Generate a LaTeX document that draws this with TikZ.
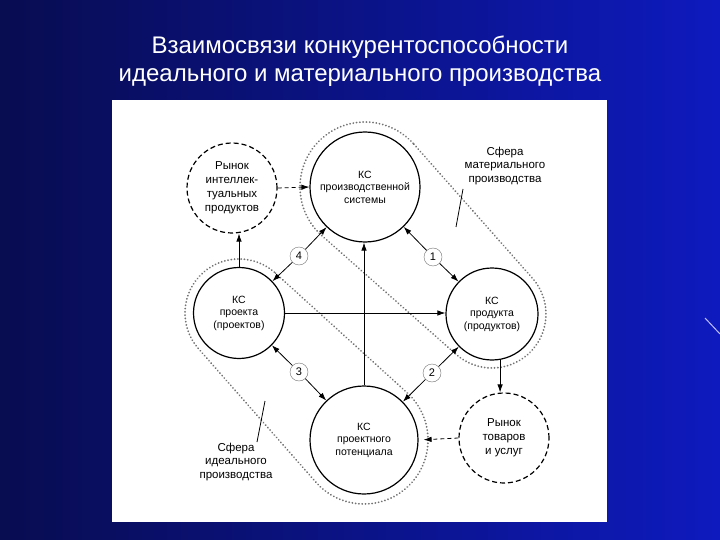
\documentclass[tikz,border=0pt]{standalone}
\usepackage{fontspec}
\setmainfont{Liberation Sans}
\usetikzlibrary{arrows.meta,calc,positioning}
\definecolor{bgnavy}{RGB}{8,12,80}
\definecolor{bgblue}{RGB}{14,26,190}

\begin{document}
\begin{tikzpicture}[x=1pt,y=-1pt,
        ks/.style={draw,circle,line width=1.2pt,minimum size=#1,inner sep=0pt,
          align=center,font=\fontsize{10.5}{12.5}\selectfont},
        market/.style={draw,circle,dash pattern=on 5pt off 3pt,line width=1.2pt,
          minimum size=90pt,inner sep=0pt,align=center,
          font=\fontsize{11.5}{14}\selectfont},
        tag/.style={draw=black!55,circle,fill=white,minimum size=18pt,
          inner sep=0pt,font=\fontsize{11}{12}\selectfont},
        sphere/.style={dash pattern=on .1pt off 3.2pt,line cap=round,
          line width=1.9pt,black!55},
        flow/.style={-{Latex[length=8pt,width=5.5pt]},line width=.8pt},
        note/.style={align=center,font=\fontsize{11.5}{13.5}\selectfont}]
        \useasboundingbox (0,0) rectangle (720,540);
        % Slide background, panel and title.
        \shade[left color=bgnavy,right color=bgblue] (0,0) rectangle (720,540);
        \draw[white!75!blue,line width=1pt] (705,318)--(720,334);
        \fill[white] (112,100) rectangle (607,522);
        \node[text=white,align=center,font=\fontsize{24}{28}\selectfont]
          (title) at (360,61) {Взаимосвязи конкурентоспособности\\
          идеального и материального производства};

        % Competitiveness circles and the two markets.
        \node[ks=110pt] (prod) at (365,187) {КС\\производственной\\системы};
        \node[ks=91pt] (proj) at (239,313) {КС\\проекта\\(проектов)};
        \node[ks=92pt] (prodt) at (492,314) {КС\\продукта\\(продуктов)};
        \node[ks=108pt] (pot) at (364,440) {КС\\проектного\\потенциала};
        \node[market] (mkti) at (232,188) {Рынок\\интеллек-\\туальных\\продуктов};
        \node[market] (mktg) at (504,438) {Рынок\\товаров\\и услуг};

        % Spheres of material and ideal production (dotted hulls).
        \draw[sphere] ($(prod)+(-41.28:65)$)--($(prodt)+(-41.28:54)$)
          arc[start angle=-41.28,end angle=131.72,radius=54]
          --($(prod)+(131.72:65)$)
          arc[start angle=131.72,end angle=318.72,radius=65]--cycle;
        \draw[sphere] ($(proj)+(-47.54:54)$)--($(pot)+(-47.54:64)$)
          arc[start angle=-47.54,end angle=138.92,radius=64]
          --($(proj)+(138.92:54)$)
          arc[start angle=138.92,end angle=312.46,radius=54]--cycle;
        \node[note] (matnote) at (505,166) {Сфера\\материального\\производства};
        \node[note] (idnote) at (236,462) {Сфера\\идеального\\производства};
        \coordinate (matA) at (463,189);
        \coordinate (matB) at (456,227);
        \draw[line width=.8pt] (matA)--(matB);
        \coordinate (idA) at (265,401);
        \coordinate (idB) at (257,442);
        \draw[line width=.8pt] (idA)--(idB);

        % Direct flows.
        \draw[flow] (proj.north)--(proj.north |- mkti.south);
        \draw[flow] (pot.north)--(pot.north |- prod.south);
        \draw[flow] (proj.east)--(proj.east -| prodt.west);
        \draw[flow] (prodt.-80)--(prodt.-80 |- mktg.north);
        \draw[flow,dash pattern=on 4pt off 3pt] (mkti.east)--(prod.west);
        \draw[flow,dash pattern=on 4pt off 3pt,shorten >=5pt]
          (mktg.west)--(pot.east);

        % Numbered two-way links.
        \node[tag] (t1) at (433,257) {1};
        \node[tag] (t2) at (432,373) {2};
        \node[tag] (t3) at (299,372) {3};
        \node[tag] (t4) at (299,256) {4};
        \draw[flow] (t1)--(prod);
        \draw[flow] (t1)--(prodt);
        \draw[flow] (t2)--(prodt);
        \draw[flow] (t2)--(pot);
        \draw[flow] (t3)--(proj);
        \draw[flow] (t3)--(pot);
        \draw[flow] (t4)--(prod);
        \draw[flow] (t4)--(proj);
\end{tikzpicture}
\end{document}
